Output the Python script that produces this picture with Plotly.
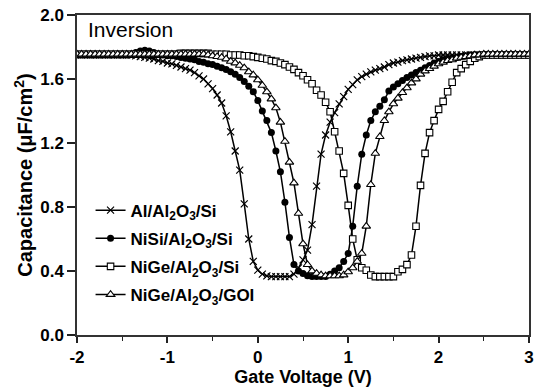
import plotly.graph_objects as go

# Gate voltage sweep (V), 0.05 V steps
voltage = [
    -2.00, -1.95, -1.90, -1.85, -1.80, -1.75, -1.70, -1.65, -1.60, -1.55,
    -1.50, -1.45, -1.40, -1.35, -1.30, -1.25, -1.20, -1.15, -1.10, -1.05,
    -1.00, -0.95, -0.90, -0.85, -0.80, -0.75, -0.70, -0.65, -0.60, -0.55,
    -0.50, -0.45, -0.40, -0.35, -0.30, -0.25, -0.20, -0.15, -0.10, -0.05,
    0.00, 0.05, 0.10, 0.15, 0.20, 0.25, 0.30, 0.35, 0.40, 0.45,
    0.50, 0.55, 0.60, 0.65, 0.70, 0.75, 0.80, 0.85, 0.90, 0.95,
    1.00, 1.05, 1.10, 1.15, 1.20, 1.25, 1.30, 1.35, 1.40, 1.45,
    1.50, 1.55, 1.60, 1.65, 1.70, 1.75, 1.80, 1.85, 1.90, 1.95,
    2.00, 2.05, 2.10, 2.15, 2.20, 2.25, 2.30, 2.35, 2.40, 2.45,
    2.50, 2.55, 2.60, 2.65, 2.70, 2.75, 2.80, 2.85, 2.90, 2.95,
    3.00,
]

cap_al_si = [
    1.75, 1.75, 1.75, 1.75, 1.75, 1.75, 1.75, 1.75, 1.75, 1.75,
    1.75, 1.75, 1.75, 1.745, 1.74, 1.735, 1.73, 1.725, 1.715, 1.71,
    1.70, 1.695, 1.685, 1.675, 1.665, 1.655, 1.64, 1.62, 1.60, 1.57,
    1.54, 1.50, 1.45, 1.37, 1.27, 1.15, 1.03, 0.82, 0.60, 0.46,
    0.405, 0.38, 0.37, 0.365, 0.365, 0.365, 0.365, 0.365, 0.38, 0.42,
    0.47, 0.53, 0.69, 0.93, 1.13, 1.25, 1.33, 1.39, 1.445, 1.49,
    1.535, 1.565, 1.595, 1.615, 1.63, 1.645, 1.655, 1.665, 1.675, 1.69,
    1.70, 1.705, 1.715, 1.72, 1.725, 1.73, 1.735, 1.74, 1.745, 1.745,
    1.75, 1.75, 1.75, 1.75, 1.75, 1.75, 1.75, 1.75, 1.75, 1.75,
    1.75, 1.75, 1.75, 1.75, 1.75, 1.75, 1.75, 1.75, 1.75, 1.75,
    1.75,
]

cap_nisi_si = [
    1.75, 1.75, 1.75, 1.75, 1.75, 1.75, 1.75, 1.75, 1.75, 1.75,
    1.75, 1.75, 1.755, 1.765, 1.775, 1.78, 1.775, 1.765, 1.755, 1.75,
    1.745, 1.745, 1.74, 1.735, 1.73, 1.725, 1.72, 1.71, 1.705, 1.695,
    1.69, 1.68, 1.67, 1.66, 1.645, 1.63, 1.61, 1.585, 1.555, 1.52,
    1.465, 1.40, 1.34, 1.265, 1.15, 1.02, 0.83, 0.61, 0.44, 0.40,
    0.385, 0.37, 0.365, 0.365, 0.365, 0.365, 0.38, 0.40, 0.42, 0.46,
    0.51, 0.68, 0.93, 1.13, 1.25, 1.34, 1.395, 1.43, 1.47, 1.525,
    1.55, 1.57, 1.59, 1.61, 1.625, 1.64, 1.655, 1.67, 1.685, 1.70,
    1.71, 1.72, 1.725, 1.73, 1.735, 1.74, 1.745, 1.75, 1.75, 1.75,
    1.75, 1.75, 1.75, 1.75, 1.75, 1.75, 1.75, 1.75, 1.75, 1.75,
    1.75,
]

cap_nige_si = [
    1.755, 1.755, 1.755, 1.755, 1.755, 1.755, 1.755, 1.755, 1.755, 1.755,
    1.755, 1.755, 1.755, 1.755, 1.755, 1.755, 1.755, 1.755, 1.755, 1.755,
    1.755, 1.755, 1.755, 1.76, 1.76, 1.76, 1.76, 1.76, 1.76, 1.76,
    1.755, 1.755, 1.755, 1.755, 1.75, 1.75, 1.75, 1.745, 1.745, 1.74,
    1.735, 1.73, 1.725, 1.715, 1.71, 1.70, 1.69, 1.675, 1.66, 1.64,
    1.62, 1.595, 1.57, 1.53, 1.50, 1.455, 1.395, 1.27, 1.15, 1.01,
    0.81, 0.60, 0.47, 0.42, 0.405, 0.375, 0.365, 0.365, 0.365, 0.365,
    0.365, 0.395, 0.41, 0.44, 0.50, 0.68, 0.935, 1.135, 1.265, 1.34,
    1.41, 1.46, 1.52, 1.58, 1.64, 1.665, 1.69, 1.71, 1.73, 1.74,
    1.75, 1.75, 1.75, 1.75, 1.75, 1.75, 1.75, 1.75, 1.75, 1.75,
    1.75,
]

cap_nige_goi = [
    1.755, 1.755, 1.755, 1.755, 1.755, 1.755, 1.755, 1.755, 1.755, 1.755,
    1.755, 1.755, 1.755, 1.755, 1.755, 1.755, 1.755, 1.755, 1.755, 1.755,
    1.755, 1.755, 1.755, 1.755, 1.755, 1.755, 1.755, 1.755, 1.755, 1.75,
    1.745, 1.74, 1.735, 1.725, 1.71, 1.70, 1.685, 1.67, 1.645, 1.625,
    1.595, 1.56, 1.52, 1.475, 1.42, 1.33, 1.21, 1.08, 0.95, 0.76,
    0.57, 0.44, 0.40, 0.385, 0.375, 0.37, 0.37, 0.37, 0.37, 0.375,
    0.395, 0.42, 0.46, 0.51, 0.68, 0.94, 1.135, 1.24, 1.34, 1.395,
    1.445, 1.48, 1.515, 1.545, 1.575, 1.60, 1.63, 1.65, 1.665, 1.68,
    1.695, 1.705, 1.715, 1.72, 1.73, 1.735, 1.74, 1.745, 1.75, 1.75,
    1.755, 1.755, 1.755, 1.755, 1.755, 1.755, 1.755, 1.755, 1.755, 1.755,
    1.755,
]

series_names = [
    "Al/Al<sub>2</sub>O<sub>3</sub>/Si",
    "NiSi/Al<sub>2</sub>O<sub>3</sub>/Si",
    "NiGe/Al<sub>2</sub>O<sub>3</sub>/Si",
    "NiGe/Al<sub>2</sub>O<sub>3</sub>/GOI",
]
x_ticks = [-2, -1, 0, 1, 2, 3]
y_ticks = [0.0, 0.4, 0.8, 1.2, 1.6, 2.0]

FONT = "Liberation Sans, Arial, sans-serif"

styles = [
    dict(symbol="x-thin-open", size=7, color="black", line=dict(color="black", width=1.2)),
    dict(symbol="circle", size=7, color="black", line=dict(color="black", width=0)),
    dict(symbol="square", size=6.5, color="white", line=dict(color="black", width=1.1)),
    dict(symbol="triangle-up", size=7.5, color="white", line=dict(color="black", width=1.1)),
]

fig = go.Figure()
for i, (name, ys, st) in enumerate(zip(series_names, [cap_al_si, cap_nisi_si, cap_nige_si, cap_nige_goi], styles)):
    fig.add_trace(go.Scatter(
        x=voltage, y=ys, name=name, mode="lines+markers",
        legendgroup=f"g{i}",
        line=dict(color="black", width=1.5),
        marker=st,
    ))

fig.update_layout(
    width=540, height=387,
    margin=dict(l=77, r=6, t=15, b=52),
    paper_bgcolor="white", plot_bgcolor="white",
    font=dict(family=FONT, color="black"),
    showlegend=True,
    legend=dict(
        x=0.03, y=0.445, xanchor="left", yanchor="top",
        bgcolor="rgba(0,0,0,0)",
        font=dict(family=FONT, size=17, weight="bold", color="black"),
        tracegroupgap=3,
    ),
    annotations=[dict(
        text="Inversion", xref="paper", yref="paper",
        x=0.02, y=0.998, xanchor="left", yanchor="top", showarrow=False,
        font=dict(family=FONT, size=21, color="black"),
    )],
)

fig.update_xaxes(
    range=[-2, 3], tickvals=x_ticks, ticktext=[str(v) for v in x_ticks],
    ticks="outside", ticklen=6, tickwidth=1.5, tickcolor="#222",
    minor=dict(ticks="outside", ticklen=4, tickwidth=1.2, dtick=0.5, tick0=-2, tickcolor="#222"),
    showline=True, mirror=True, linecolor="#333", linewidth=1.5,
    showgrid=False, zeroline=False,
    tickfont=dict(family=FONT, size=17, weight="bold"),
    title=dict(text="Gate Voltage (V)", font=dict(family=FONT, size=18, weight="bold"), standoff=1),
)
fig.update_yaxes(
    range=[0, 2], tickvals=y_ticks, ticktext=[f"{v:.1f}" for v in y_ticks],
    ticks="outside", ticklen=8, tickwidth=1.5, tickcolor="#222",
    showline=True, mirror=True, linecolor="#333", linewidth=1.5,
    showgrid=False, zeroline=False,
    tickfont=dict(family=FONT, size=17, weight="bold"),
    title=dict(text="Capacitance (μF/cm<sup>2</sup>)", font=dict(family=FONT, size=20, weight="bold"), standoff=2),
)

fig.write_html("out.html")
